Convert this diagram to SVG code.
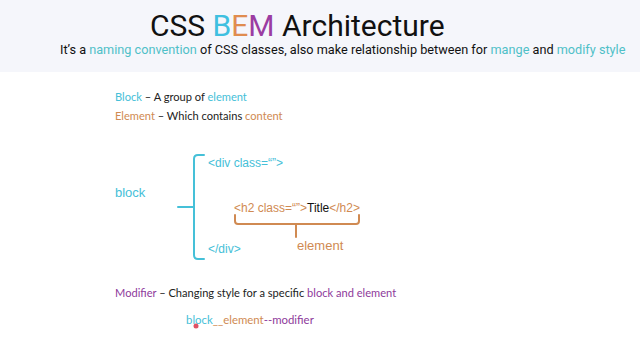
<svg xmlns="http://www.w3.org/2000/svg" width="640" height="360" viewBox="0 0 640 360">
<style>
.hd{font-family:Roboto,"Liberation Sans",sans-serif;}
.ca{font-family:Lato,"Open Sans",sans-serif;font-size:11.1px;fill:#222;}
.ar{font-family:"Liberation Sans",Arial,sans-serif;}
.cy{fill:#45c0d8;}
.tl{fill:#4fc0c8;}
.or{fill:#d08a52;}
.pu{fill:#8e3a9b;}
.bk{fill:#111;}
</style>
<rect x="0" y="0" width="640" height="360" fill="#ffffff"/>
<rect x="0" y="0" width="640" height="72" fill="#f5f6fb"/>
<g id="title">
<text class="hd" x="150" y="36" font-size="30" fill="#111">CSS <tspan fill="#3fc0e0">B</tspan><tspan fill="#e08c4f">E</tspan><tspan fill="#9b3ca2">M</tspan> Architecture</text>
<text class="hd" x="60" y="54" font-size="12.7" fill="#111">It’s a <tspan class="tl">naming convention</tspan> of CSS classes, also make relationship between for <tspan class="tl">mange</tspan> and <tspan class="tl">modify style</tspan></text>
</g>
<g id="definitions">
<text class="ca" x="115" y="101"><tspan class="cy">Block</tspan> – A group of <tspan class="cy">element</tspan></text>
<text class="ca" x="115" y="120"><tspan class="or">Element</tspan> – Which contains <tspan class="or">content</tspan></text>
</g>
<g id="block-label"><text class="ar cy" x="115" y="197" font-size="13">block</text></g>
<g id="div-open"><text class="ar cy" x="208" y="167" font-size="12">&lt;div class=“”&gt;</text></g>
<g id="h2"><text class="ar or" x="234" y="212" font-size="12">&lt;h2 class=“”&gt;<tspan class="bk">Title</tspan>&lt;/h2&gt;</text></g>
<g id="div-close"><text class="ar cy" x="208" y="253" font-size="12">&lt;/div&gt;</text></g>
<g id="element-label"><text class="ar or" x="297" y="250" font-size="13">element</text></g>
<g id="connectors" fill="none" stroke-width="2" stroke-linecap="round">
<path d="M204 155 H198 Q194 155 194 159 V255 Q194 259 198 259 H204" stroke="#45c0d8"/>
<path d="M178 207 H194" stroke="#45c0d8"/>
<path d="M235 215 V221 Q235 224 238 224 H356 Q359 224 359 221 V215" stroke="#d08a52"/>
<path d="M296 224 V237" stroke="#d08a52"/>
</g>
<g id="modifier">
<text class="ca" x="115" y="297"><tspan class="pu">Modifier</tspan> – Changing style for a specific <tspan class="pu">block and element</tspan></text>
<text class="ca" x="186" y="324" style="font-size:11.4px"><tspan class="cy">block</tspan><tspan class="or">__element</tspan><tspan class="pu">--modifier</tspan></text>
<circle cx="196" cy="326" r="2.5" fill="#d9344a" opacity="0.85"/>
</g>
</svg>
